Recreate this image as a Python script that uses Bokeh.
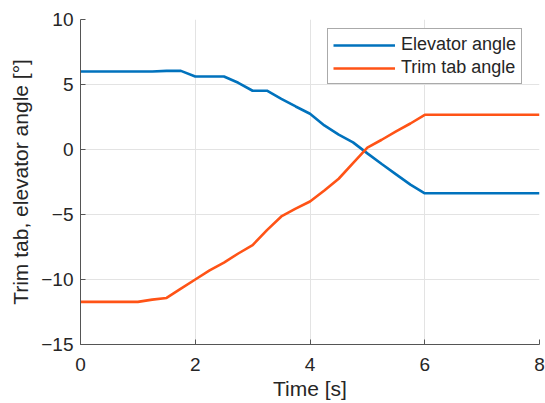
from bokeh.plotting import figure
from bokeh.models import Range1d, Legend, LegendItem, FixedTicker
from bokeh.embed import file_html
from bokeh.resources import INLINE

# Data
time_s = [0.0, 0.25, 0.5, 0.75, 1.0, 1.25, 1.5, 1.75, 2.0, 2.25, 2.5, 2.75,
          3.0, 3.25, 3.5, 3.75, 4.0, 4.25, 4.5, 4.75, 5.0, 5.25, 5.5, 5.75,
          6.0, 8.0]
elevator_angle = [6.0, 6.0, 6.0, 6.0, 6.0, 6.0, 6.05, 6.05, 5.62, 5.62, 5.62, 5.13,
                  4.52, 4.52, 3.9, 3.31, 2.75, 1.85, 1.14, 0.55, -0.3, -1.12, -1.91, -2.7,
                  -3.37, -3.37]
trim_tab_angle = [-11.72, -11.72, -11.72, -11.72, -11.72, -11.55, -11.42, -10.7, -10.0, -9.3, -8.7, -8.0,
                  -7.35, -6.2, -5.15, -4.55, -4.0, -3.15, -2.25, -1.05, 0.15, 0.75, 1.4, 2.0,
                  2.67, 2.67]
x_ticks = [0, 2, 4, 6, 8]
y_ticks = [-15, -10, -5, 0, 5, 10]

FONT = "Liberation Sans"
TXT = "#262626"

p = figure(width=545, height=403, output_backend="svg", toolbar_location=None,
           x_range=Range1d(0, 8), y_range=Range1d(-15, 10),
           min_border_left=80, min_border_right=6, min_border_top=19, min_border_bottom=59)
p.outline_line_color = None
p.background_fill_color = "white"

l1 = p.line(time_s, elevator_angle, line_color="#0072BD", line_width=2.6)
l2 = p.line(time_s, trim_tab_angle, line_color="#FF5316", line_width=2.6)

for ax in (p.xaxis[0], p.yaxis[0]):
    ax.axis_line_color = "#555555"
    ax.axis_line_width = 1
    ax.major_tick_line_color = "#555555"
    ax.major_tick_in = 5
    ax.major_tick_out = 0
    ax.minor_tick_line_color = None
    ax.major_label_text_font = FONT
    ax.major_label_text_font_size = "19px"
    ax.major_label_text_color = TXT
    ax.axis_label_text_font = FONT
    ax.axis_label_text_font_size = "21px"
    ax.axis_label_text_color = TXT
    ax.axis_label_text_font_style = "normal"

p.xaxis.ticker = FixedTicker(ticks=x_ticks)
p.yaxis.ticker = FixedTicker(ticks=y_ticks)
p.xaxis.axis_label = "Time [s]"
p.yaxis.axis_label = "Trim tab, elevator angle [°]"
p.xaxis.major_label_standoff = 13
p.yaxis.major_label_standoff = 7
p.xaxis.axis_label_standoff = 3
p.yaxis.axis_label_standoff = 6

p.xgrid.ticker = FixedTicker(ticks=x_ticks)
p.ygrid.ticker = FixedTicker(ticks=y_ticks)
p.grid.grid_line_color = "#e3e3e3"
p.grid.grid_line_width = 1

legend = Legend(items=[LegendItem(label="Elevator angle", renderers=[l1]),
                       LegendItem(label="Trim tab angle", renderers=[l2])],
                location=(247, 260))
legend.label_text_font = FONT
legend.label_text_font_size = "18px"
legend.label_text_color = TXT
legend.glyph_width = 62
legend.glyph_height = 20
legend.label_height = 20
legend.label_standoff = 6
legend.padding = 5
legend.spacing = 2
legend.margin = 0
legend.border_line_color = "#555555"
legend.border_line_width = 1
legend.background_fill_color = "white"
legend.background_fill_alpha = 1
p.add_layout(legend, "center")

open("out.html", "w").write(file_html(p, INLINE))
